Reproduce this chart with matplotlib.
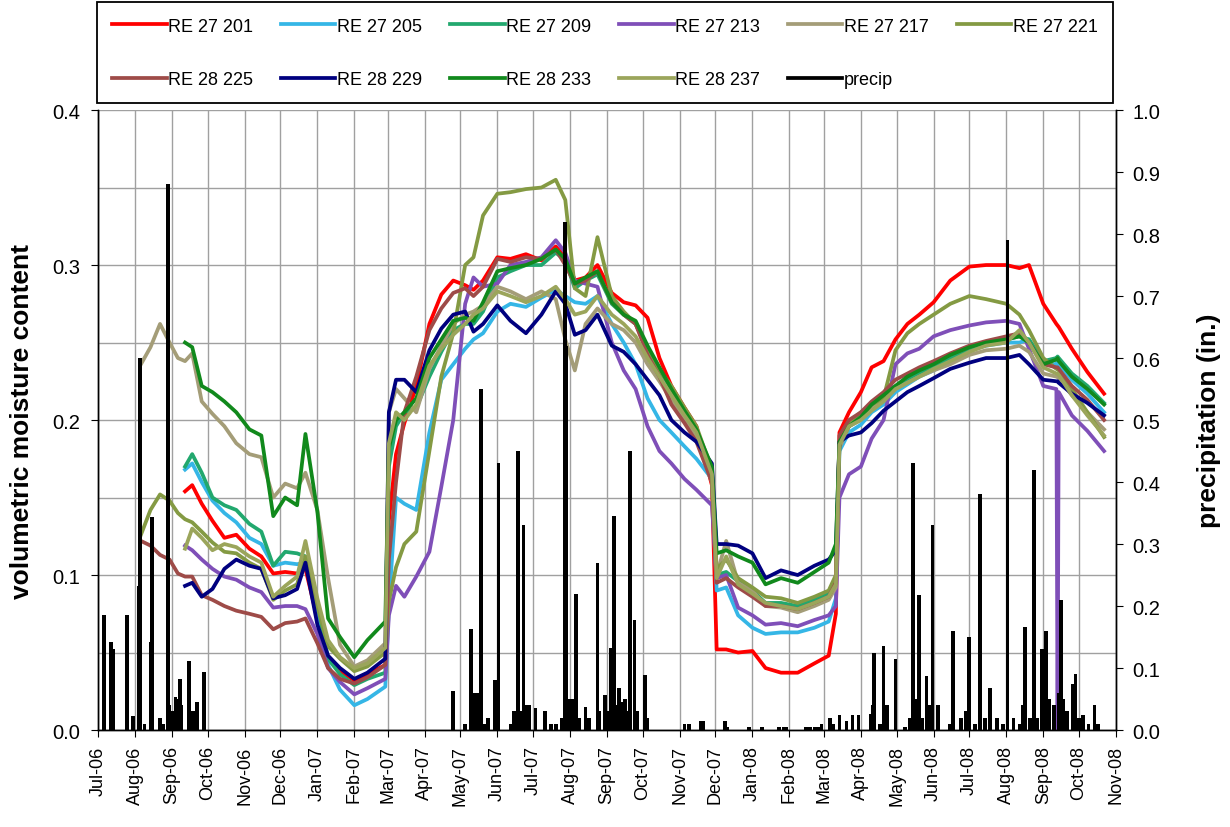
import numpy as np
import pandas as pd
import matplotlib
matplotlib.use('Agg')
import matplotlib.pyplot as plt
import matplotlib.dates as mdates
from matplotlib.ticker import MultipleLocator, FormatStrFormatter
from matplotlib.lines import Line2D

plt.rcParams['font.family'] = ['Liberation Sans', 'DejaVu Sans']

nan = np.nan

# sensor reading dates (shared by all probes)
dates = pd.to_datetime([
    '2006-08-06', '2006-08-14', '2006-08-22', '2006-08-30', '2006-09-06', '2006-09-12', '2006-09-18', '2006-09-26', '2006-10-05', '2006-10-15',
    '2006-10-25', '2006-11-05', '2006-11-15', '2006-11-25', '2006-12-05', '2006-12-15', '2006-12-22', '2007-01-01', '2007-01-10', '2007-01-20',
    '2007-02-01', '2007-02-12', '2007-02-27', '2007-03-02', '2007-03-08', '2007-03-15', '2007-03-25', '2007-04-05', '2007-04-15', '2007-04-25',
    '2007-05-05', '2007-05-12', '2007-05-20', '2007-06-01', '2007-06-12', '2007-06-25', '2007-07-08', '2007-07-20', '2007-07-28', '2007-08-05',
    '2007-08-14', '2007-08-24', '2007-09-05', '2007-09-15', '2007-09-25', '2007-10-05', '2007-10-15', '2007-10-25', '2007-11-05', '2007-11-15',
    '2007-11-28', '2007-12-02', '2007-12-10', '2007-12-20', '2008-01-01', '2008-01-12', '2008-01-25', '2008-02-08', '2008-02-22', '2008-03-05',
    '2008-03-11', '2008-03-14', '2008-03-22', '2008-04-01', '2008-04-10', '2008-04-20', '2008-04-30', '2008-05-10', '2008-05-20', '2008-06-01',
    '2008-06-15', '2008-07-01', '2008-07-15', '2008-08-01', '2008-08-12', '2008-08-20', '2008-09-01', '2008-09-12', '2008-09-13', '2008-09-14',
    '2008-09-25', '2008-10-08', '2008-10-22'])

re27_201 = [nan, nan, nan, nan, nan, .154, .158, .146, .135, .124,
            .126, .117, .112, .101, .102, .101, .104, .072, .046, .038,
            .032, .036, .042, .135, .178, .198, .222, .262, .281, .290,
            .287, .284, .290, .305, .304, .307, .303, .312, .305, .290,
            .292, .300, .282, .276, .274, .266, .240, .222, .208, .196,
            .158, .052, .052, .050, .051, .040, .037, .037, .043, .048,
            .075, .192, .205, .218, .234, .238, .252, .262, .268, .276,
            .290, .299, .300, .300, .298, .300, .275, .262, .261, .260,
            .246, .231, .217]

re27_205 = [nan, nan, nan, nan, nan, .168, .172, .160, .148, .140,
            .134, .124, .120, .106, .108, .107, .108, .078, .042, .026,
            .016, .020, .028, .080, .150, .146, .142, .192, .226, .236,
            .246, .252, .256, .270, .275, .273, .279, .284, .280, .276,
            .275, .280, .262, .250, .236, .214, .200, .192, .183, .175,
            .162, .090, .092, .074, .066, .062, .063, .063, .066, .070,
            .085, .180, .192, .197, .205, .210, .218, .223, .228, .232,
            .238, .245, .248, .250, .250, .252, .236, .236, .237, .236,
            .226, .217, .205]

re27_209 = [nan, nan, nan, nan, nan, .170, .178, .166, .150, .145,
            .142, .133, .128, .106, .115, .114, .112, .082, .046, .036,
            .029, .033, .037, .170, .196, .205, .208, .228, .244, .258,
            .262, .262, .270, .292, .296, .300, .300, .308, .303, .285,
            .290, .294, .275, .268, .262, .245, .232, .220, .206, .194,
            .165, .100, .102, .096, .090, .082, .082, .080, .084, .088,
            .098, .185, .196, .201, .208, .214, .222, .226, .230, .235,
            .240, .246, .249, .252, .254, .252, .238, .240, .241, .240,
            .230, .222, .211]

re27_213 = [nan, nan, nan, nan, nan, .119, .116, .110, .104, .099,
            .097, .092, .089, .079, .080, .080, .078, .062, .040, .031,
            .023, .027, .033, .074, .093, .086, .099, .115, .157, .200,
            .275, .292, .286, .288, .300, .302, .305, .316, .308, .290,
            .288, .286, .250, .232, .220, .196, .180, .172, .162, .155,
            .145, .098, .100, .079, .074, .068, .069, .067, .071, .074,
            .080, .150, .165, .170, .188, .200, .236, .243, .246, .254,
            .258, .261, .263, .264, .262, .246, .222, .220, .000, .218,
            .203, .193, .180]

re27_217 = [.236, .247, .262, .250, .240, .238, .243, .212, .204, .196,
            .185, .178, .176, .150, .159, .156, .166, .142, .098, .055,
            .041, .045, .056, .205, .220, .214, .205, .233, .248, .262,
            .268, .270, .274, .286, .283, .278, .283, .278, .252, .232,
            .262, .272, .262, .258, .250, .236, .225, .213, .200, .188,
            .160, .100, .122, .095, .090, .080, .079, .076, .080, .084,
            .092, .182, .196, .200, .208, .213, .220, .224, .228, .232,
            .236, .242, .245, .246, .248, .244, .230, .228, .228, .227,
            .216, .205, .194]

re27_221 = [.126, .142, .152, .148, .140, .136, .134, .128, .121, .115,
            .114, .108, .104, .084, .090, .094, .112, .080, .054, .046,
            .038, .041, .050, .083, .105, .120, .128, .180, .228, .256,
            .300, .305, .332, .346, .347, .349, .350, .355, .342, .285,
            .280, .318, .280, .270, .262, .246, .232, .222, .208, .196,
            .168, .104, .110, .098, .092, .086, .085, .082, .086, .090,
            .100, .186, .198, .205, .210, .214, .245, .256, .262, .268,
            .275, .280, .278, .275, .268, .258, .240, .233, .233, .232,
            .220, .205, .189]

re28_225 = [.122, .119, .113, .110, .101, .099, .099, .087, .084, .080,
            .077, .075, .073, .065, .069, .070, .072, .056, .040, .033,
            .030, .034, .042, .110, .160, .205, .228, .258, .272, .282,
            .285, .280, .286, .304, .302, .305, .304, .310, .300, .288,
            .290, .296, .276, .268, .262, .242, .228, .210, .198, .186,
            .160, .095, .098, .092, .086, .080, .080, .078, .082, .086,
            .095, .190, .200, .205, .212, .218, .226, .230, .234, .238,
            .243, .248, .251, .254, .256, .250, .236, .234, .234, .233,
            .222, .213, .200]

re28_229 = [nan, nan, nan, nan, nan, .093, .095, .086, .091, .104,
            .110, .106, .104, .085, .087, .091, .108, .068, .048, .040,
            .033, .037, .046, .205, .226, .226, .218, .245, .259, .268,
            .270, .257, .262, .274, .264, .256, .268, .283, .275, .255,
            .258, .268, .248, .244, .236, .226, .216, .200, .192, .186,
            .172, .120, .120, .119, .114, .098, .103, .100, .106, .110,
            .116, .186, .190, .192, .198, .206, .212, .218, .222, .227,
            .233, .237, .240, .240, .242, .236, .226, .225, .225, .224,
            .217, .211, .203]

re28_233 = [nan, nan, nan, nan, nan, .250, .247, .222, .218, .212,
            .205, .194, .190, .138, .150, .145, .191, .141, .072, .060,
            .047, .058, .070, .182, .200, .205, .214, .240, .252, .264,
            .266, .264, .276, .296, .298, .300, .304, .310, .304, .288,
            .292, .296, .276, .268, .264, .248, .234, .220, .206, .194,
            .170, .114, .116, .112, .108, .094, .098, .095, .102, .108,
            .120, .186, .196, .202, .210, .216, .222, .228, .232, .236,
            .242, .247, .250, .252, .254, .250, .236, .239, .240, .238,
            .228, .220, .210]

re28_237 = [nan, nan, nan, nan, nan, .117, .130, .124, .116, .120,
            .118, .112, .108, .086, .093, .099, .122, .085, .058, .047,
            .040, .043, .053, .185, .205, .200, .210, .235, .246, .255,
            .262, .268, .272, .283, .280, .276, .280, .286, .278, .268,
            .270, .280, .268, .262, .254, .240, .228, .216, .203, .192,
            .165, .098, .112, .094, .088, .082, .080, .078, .082, .086,
            .094, .184, .196, .200, .206, .212, .220, .224, .228, .233,
            .238, .244, .248, .250, .258, .250, .234, .230, .230, .229,
            .216, .203, .190]

# daily rainfall (in.)
precip_dates = pd.to_datetime([
    '2006-07-06', '2006-07-12', '2006-07-14', '2006-07-25', '2006-07-30', '2006-08-04', '2006-08-05', '2006-08-09', '2006-08-14', '2006-08-15',
    '2006-08-22', '2006-08-25', '2006-08-29', '2006-08-30', '2006-09-02', '2006-09-04', '2006-09-05', '2006-09-07', '2006-09-08', '2006-09-09',
    '2006-09-15', '2006-09-19', '2006-09-20', '2006-09-22', '2006-09-28',
    '2007-04-25', '2007-05-05', '2007-05-10', '2007-05-12', '2007-05-15', '2007-05-17', '2007-05-18', '2007-05-21', '2007-05-24', '2007-05-30',
    '2007-06-02', '2007-06-12', '2007-06-15', '2007-06-18', '2007-06-21', '2007-06-23', '2007-06-26', '2007-06-28', '2007-07-03', '2007-07-11',
    '2007-07-16', '2007-07-20', '2007-07-25', '2007-07-28', '2007-07-29', '2007-07-31', '2007-08-03', '2007-08-06', '2007-08-09', '2007-08-14',
    '2007-08-17', '2007-08-24', '2007-08-25', '2007-08-30', '2007-09-03', '2007-09-04', '2007-09-07', '2007-09-09', '2007-09-11', '2007-09-14',
    '2007-09-16', '2007-09-18', '2007-09-20', '2007-09-24', '2007-09-26', '2007-10-03', '2007-10-05',
    '2007-11-05', '2007-11-09', '2007-11-19', '2007-11-21', '2007-12-09', '2007-12-11', '2007-12-29', '2008-01-09', '2008-01-23', '2008-01-27',
    '2008-01-29', '2008-02-15', '2008-02-18', '2008-02-22', '2008-02-25', '2008-02-28', '2008-03-06', '2008-03-09', '2008-03-14', '2008-03-20',
    '2008-03-25', '2008-03-30',
    '2008-04-09', '2008-04-11', '2008-04-12', '2008-04-17', '2008-04-20', '2008-04-23', '2008-04-30', '2008-05-08', '2008-05-12', '2008-05-15',
    '2008-05-18', '2008-05-20', '2008-05-22', '2008-05-26', '2008-05-28', '2008-05-31', '2008-06-05', '2008-06-15', '2008-06-17', '2008-06-24',
    '2008-06-28', '2008-07-01', '2008-07-06', '2008-07-10', '2008-07-14', '2008-07-18', '2008-07-24', '2008-07-29', '2008-08-02', '2008-08-07',
    '2008-08-12', '2008-08-15', '2008-08-17', '2008-08-21', '2008-08-24', '2008-08-27', '2008-08-31', '2008-09-03', '2008-09-06', '2008-09-10',
    '2008-09-14', '2008-09-16', '2008-09-18', '2008-09-21', '2008-09-26', '2008-09-28', '2008-10-01', '2008-10-04', '2008-10-09', '2008-10-14',
    '2008-10-17'])

precip_in = [0.185, 0.142, 0.13, 0.185, 0.023, 0.232, 0.60, 0.01, 0.142, 0.343,
             0.02, 0.01, 0.88, 0.04, 0.03, 0.053, 0.05, 0.03, 0.082, 0.04,
             0.111, 0.03, 0.02, 0.045, 0.093,
             0.063, 0.01, 0.163, 0.06, 0.06, 0.03, 0.55, 0.01, 0.02, 0.08,
             0.43, 0.01, 0.03, 0.45, 0.03, 0.33, 0.04, 0.04, 0.035, 0.03,
             0.01, 0.01, 0.02, 0.82, 0.62, 0.05, 0.05, 0.22, 0.02, 0.037,
             0.02, 0.27, 0.03, 0.057, 0.03, 0.132, 0.345, 0.04, 0.068, 0.045,
             0.05, 0.03, 0.45, 0.178, 0.03, 0.088, 0.02,
             0.01, 0.01, 0.015, 0.015, 0.015, 0.005, 0.005, 0.005, 0.005, 0.005,
             0.005, 0.005, 0.005, 0.005, 0.005, 0.01, 0.02, 0.01, 0.025, 0.015,
             0.025, 0.025,
             0.026, 0.04, 0.125, 0.01, 0.135, 0.04, 0.115, 0.005, 0.02, 0.43,
             0.05, 0.218, 0.02, 0.087, 0.04, 0.33, 0.04, 0.01, 0.16, 0.02,
             0.03, 0.15, 0.01, 0.38, 0.02, 0.068, 0.02, 0.01, 0.79, 0.02,
             0.01, 0.04, 0.166, 0.02, 0.42, 0.02, 0.13, 0.16, 0.05, 0.04,
             0.06, 0.21, 0.05, 0.03, 0.075, 0.09, 0.02, 0.025, 0.01, 0.04,
             0.01]

labels = ['RE 27 201', 'RE 27 205', 'RE 27 209', 'RE 27 213', 'RE 27 217', 'RE 27 221',
          'RE 28 225', 'RE 28 229', 'RE 28 233', 'RE 28 237']
values = [re27_201, re27_205, re27_209, re27_213, re27_217, re27_221,
          re28_225, re28_229, re28_233, re28_237]
colors = ['#ff0000', '#35b6e6', '#22a86e', '#7f4fb8', '#a49d78', '#849a43',
          '#9e4b48', '#00007f', '#11891c', '#9ba55b']

fig = plt.figure(figsize=(12.3, 8.28), dpi=100)
ax = fig.add_axes([0.0797, 0.1171, 0.8276, 0.7488])
ax2 = ax.twinx()

handles = []
for lab, v, c in zip(labels, values, colors):
    h, = ax.plot(dates, v, color=c, lw=2.7, label=lab, solid_joinstyle='round')
    handles.append(h)

ax2.bar(precip_dates, precip_in, width=3.2, color='black', align='center')
precip_handle = Line2D([], [], color='black', lw=2.7, label='precip')

ax.set_xlim(pd.Timestamp('2006-07-01'), pd.Timestamp('2008-11-01'))
ax.set_ylim(0, 0.4)
ax2.set_ylim(0, 1.0)

ax.xaxis.set_major_locator(mdates.MonthLocator())
ax.xaxis.set_major_formatter(mdates.DateFormatter('%b-%y'))
ax.yaxis.set_major_locator(MultipleLocator(0.1))
ax.yaxis.set_minor_locator(MultipleLocator(0.05))
ax.yaxis.set_major_formatter(FormatStrFormatter('%.1f'))
ax2.yaxis.set_major_locator(MultipleLocator(0.1))
ax2.yaxis.set_major_formatter(FormatStrFormatter('%.1f'))

gcol = '#a0a0a0'
ax.grid(which='major', axis='x', color=gcol, lw=1.0)
ax.grid(which='both', axis='y', color=gcol, lw=1.0)
ax.set_axisbelow(True)

for a in (ax, ax2):
    a.spines['top'].set_visible(False)
    for s in ('left', 'right', 'bottom'):
        a.spines[s].set_linewidth(1.0)
ax.tick_params(axis='x', which='major', direction='out', length=5, pad=6, labelsize=13, labelrotation=90)
ax.tick_params(axis='y', which='major', direction='out', length=5, pad=8, labelsize=14.5, colors='black')
ax.tick_params(axis='y', which='minor', length=0)
ax2.tick_params(axis='y', direction='out', length=5, pad=7, labelsize=14.5)

ax.set_ylabel('volumetric moisture content', fontsize=19, fontweight='bold')
ax.yaxis.set_label_coords(-0.063, 0.5)
ax2.set_ylabel('precipitation (in.)', fontsize=19, fontweight='bold')
ax2.yaxis.set_label_coords(1.080, 0.5)

# legend fills columns first, so interleave the two rows
h_all = handles + [precip_handle]
order = [0, 6, 1, 7, 2, 8, 3, 9, 4, 10, 5]
leg = fig.legend([h_all[i] for i in order], [h_all[i].get_label() for i in order],
                 loc='center', bbox_to_anchor=(0.0789, 0.874, 0.826, 0.122),
                 bbox_transform=fig.transFigure, ncol=6, mode='expand',
                 fontsize=13, handlelength=3.0, handletextpad=0.1,
                 labelspacing=2.0, borderpad=0.85, borderaxespad=0,
                 fancybox=False, framealpha=1, edgecolor='black')
leg.get_frame().set_linewidth(1.3)

fig.savefig('out.png', dpi=100)
